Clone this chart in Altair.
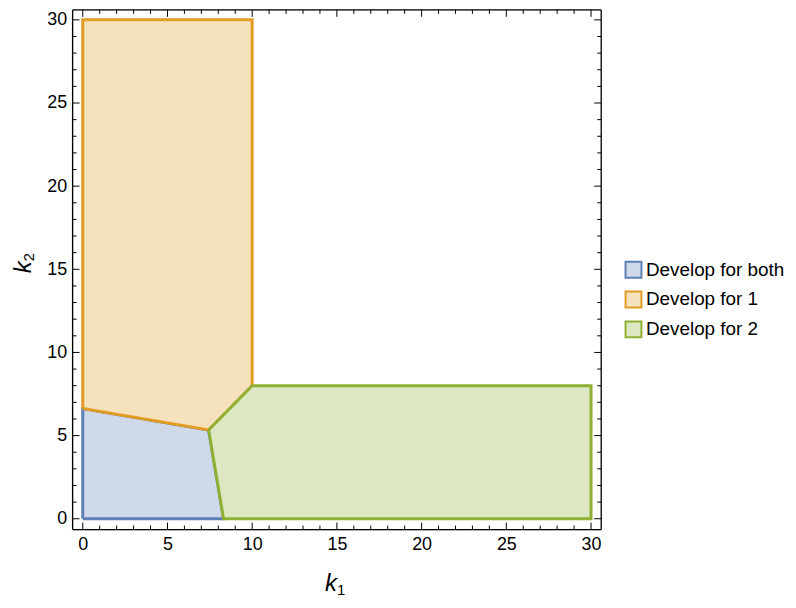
import altair as alt
import pandas as pd

# ---- data -------------------------------------------------------------
regions = ["Develop for both", "Develop for 1", "Develop for 2"]
stroke_colors = ["#5E81B5", "#E19C24", "#8FB032"]
fill_colors = ["#CFD9E9", "#F6E1BD", "#DDE7C2"]

both_k1 = [0, 0, 7.43, 8.31, 0]
both_k2 = [0, 6.63, 5.34, 0, 0]
one_k1 = [0, 0, 10, 10, 7.43, 0]
one_k2 = [6.63, 30, 30, 8, 5.34, 6.63]
two_k1 = [7.43, 10, 30, 30, 8.31, 7.43]
two_k2 = [5.34, 8, 8, 0, 0, 5.34]

major_ticks = [0, 5, 10, 15, 20, 25, 30]
minor_ticks = [1, 2, 3, 4, 6, 7, 8, 9, 11, 12, 13, 14, 16, 17, 18, 19,
               21, 22, 23, 24, 26, 27, 28, 29]

x_title = ["k", "1"]
y_title = ["k", "2"]

FONT = "Liberation Sans"
W, H = 532, 523

rows = []
for name, xs, ys in zip(regions, [both_k1, one_k1, two_k1], [both_k2, one_k2, two_k2]):
    for i, (a, b) in enumerate(zip(xs, ys)):
        rows.append({"region": name, "k1": a, "k2": b, "idx": i})
poly_df = pd.DataFrame(rows)

xscale = alt.Scale(domain=[-0.6, 30.6], nice=False, zero=False)
yscale = alt.Scale(domain=[-0.65, 30.6], nice=False, zero=False)
xaxis = alt.Axis(values=major_ticks, ticks=False, domain=False, grid=False, title=None,
                 labelFontSize=18, labelPadding=6, labelColor="black", labelFont=FONT,
                 labelFlush=False)
yaxis = alt.Axis(values=major_ticks, ticks=False, domain=False, grid=False, title=None,
                 labelFontSize=18, labelPadding=6, labelColor="black", labelFont=FONT,
                 labelFlush=False)


def X(f="k1"):
    return alt.X(f"{f}:Q", scale=xscale, axis=xaxis)


def Y(f="k2"):
    return alt.Y(f"{f}:Q", scale=yscale, axis=yaxis)


leg = alt.Legend(title=None, orient="none", legendX=555, legendY=252, symbolType="square",
                 symbolSize=256, symbolStrokeWidth=2, labelFontSize=19, labelFont=FONT,
                 labelColor="black", labelOffset=3, rowPadding=5, padding=0, labelLimit=200)

layers = []
for name in regions:
    layers.append(
        alt.Chart(poly_df)
        .transform_filter(alt.datum.region == name)
        .mark_line(strokeWidth=3, strokeJoin="miter", fillOpacity=1)
        .encode(
            x=X(), y=Y(), order="idx:Q",
            fill=alt.Fill("region:N", scale=alt.Scale(domain=regions, range=fill_colors), legend=leg),
            stroke=alt.Stroke("region:N", scale=alt.Scale(domain=regions, range=stroke_colors), legend=leg),
        )
    )

# frame ticks (inward)
for vals, L in [(major_ticks, 7), (minor_ticks, 4)]:
    tdf = pd.DataFrame({"k1": vals, "k2": vals})
    base = alt.Chart(tdf).mark_rule(color="black", strokeWidth=1)
    layers.append(base.encode(x=X(), y=alt.value(H), y2=alt.value(H - L)))
    layers.append(base.encode(x=X(), y=alt.value(0), y2=alt.value(L)))
    layers.append(base.encode(y=Y(), x=alt.value(0), x2=alt.value(L)))
    layers.append(base.encode(y=Y(), x=alt.value(W), x2=alt.value(W - L)))

# frame
fdf = pd.DataFrame({"k1": [0], "k2": [0]})
fbase = alt.Chart(fdf).mark_rule(color="black", strokeWidth=1.3)
layers.append(fbase.encode(x=alt.value(0), x2=alt.value(W), y=alt.value(0)))
layers.append(fbase.encode(x=alt.value(0), x2=alt.value(W), y=alt.value(H)))
layers.append(fbase.encode(y=alt.value(0), y2=alt.value(H), x=alt.value(0)))
layers.append(fbase.encode(y=alt.value(0), y2=alt.value(H), x=alt.value(W)))

# axis titles with italic k and subscript
layers.append(alt.Chart(pd.DataFrame({"t": [x_title[0]]})).mark_text(
    font=FONT, fontSize=24, fontStyle="italic", align="center", baseline="alphabetic", color="black"
).encode(x=alt.value(260), y=alt.value(585), text="t:N"))
layers.append(alt.Chart(pd.DataFrame({"t": [x_title[1]]})).mark_text(
    font=FONT, fontSize=15, align="left", baseline="alphabetic", color="black"
).encode(x=alt.value(266), y=alt.value(588.5), text="t:N"))
layers.append(alt.Chart(pd.DataFrame({"t": [y_title[0]]})).mark_text(
    font=FONT, fontSize=24, fontStyle="italic", align="center", baseline="alphabetic", color="black", angle=270
).encode(x=alt.value(-42), y=alt.value(259), text="t:N"))
layers.append(alt.Chart(pd.DataFrame({"t": [y_title[1]]})).mark_text(
    font=FONT, fontSize=15, align="left", baseline="alphabetic", color="black", angle=270
).encode(x=alt.value(-38.5), y=alt.value(253), text="t:N"))

chart = alt.layer(*layers).properties(
    width=W, height=H,
    autosize=alt.AutoSizeParams(type="none"),
    padding={"left": 65, "top": 0, "right": 188, "bottom": 67},
).configure_view(stroke="black", strokeWidth=1).configure(font=FONT)

chart.save("out.html", embed_options={"renderer": "svg", "actions": False})
